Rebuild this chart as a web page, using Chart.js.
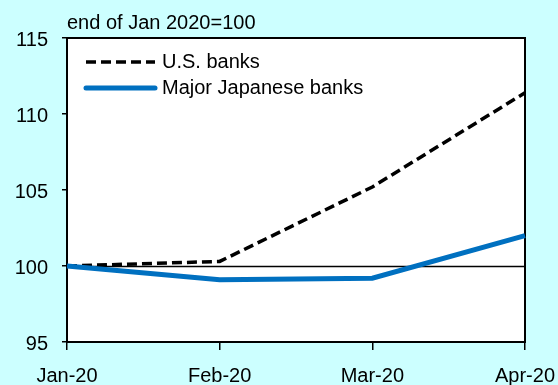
<!DOCTYPE html>
<html>
<head>
<meta charset="utf-8">
<script src="https://cdn.jsdelivr.net/npm/chart.js@4/dist/chart.umd.min.js"></script>
<style>
  html, body { margin: 0; padding: 0; background: #ccffff; }
  #wrap { width: 558px; height: 385px; position: relative; }
</style>
</head>
<body>
<div id="wrap"><canvas id="chart"></canvas></div>
<script>
// data
const months = ['Jan-20', 'Feb-20', 'Mar-20', 'Apr-20'];
const usBanks = [100, 100.3, 105.2, 111.4];
const japanBanks = [100, 99.1, 99.2, 102.0];
const yTicks = [95, 100, 105, 110, 115];
const unitNote = 'end of Jan 2020=100';

const FONT = "'Liberation Sans', Arial, sans-serif";
const BLUE = '#0070c0';

// keep the plot box where the reference has it
function noScalePadding(scale) {
  scale.paddingLeft = 0;
  scale.paddingRight = 0;
  scale.paddingTop = 0;
  scale.paddingBottom = 0;
}

// white plot area, frame and the 100 base line
const plotFrame = {
  id: 'plotFrame',
  beforeDatasetsDraw(chart) {
    const { ctx, chartArea: a, scales } = chart;
    ctx.save();
    ctx.fillStyle = '#ffffff';
    ctx.fillRect(a.left, a.top, a.right - a.left, a.bottom - a.top);
    const y100 = Math.round(scales.y.getPixelForValue(100)) + 0.5;
    ctx.strokeStyle = '#000';
    ctx.lineWidth = 1.5;
    ctx.beginPath();
    ctx.moveTo(a.left, y100);
    ctx.lineTo(a.right, y100);
    ctx.stroke();
    ctx.lineWidth = 2;
    ctx.strokeRect(a.left, a.top, a.right - a.left, a.bottom - a.top);
    ctx.restore();
  },
  afterDatasetsDraw(chart) {
    const { ctx, chartArea: a } = chart;
    ctx.save();
    // unit note above the plot
    ctx.font = '20px ' + FONT;
    ctx.fillStyle = '#000';
    ctx.textAlign = 'left';
    ctx.textBaseline = 'middle';
    ctx.fillText(unitNote, a.left, 23);
    // legend inside the plot
    const rows = chart.data.datasets.map((ds, i) => ({ ds, y: 62 + i * 26 }));
    rows.forEach(({ ds, y }) => {
      ctx.strokeStyle = ds.borderColor;
      ctx.lineWidth = ds.borderWidth;
      ctx.setLineDash(ds.borderDash || []);
      ctx.lineCap = ds.borderDash ? 'butt' : 'round';
      ctx.beginPath();
      ctx.moveTo(86, y);
      ctx.lineTo(155, y);
      ctx.stroke();
      ctx.setLineDash([]);
      ctx.fillText(ds.label, 162, y);
    });
    ctx.restore();
  }
};

new Chart(document.getElementById('chart'), {
  type: 'line',
  data: {
    labels: months,
    datasets: [
      {
        label: 'U.S. banks',
        data: usBanks,
        borderColor: '#000000',
        borderWidth: 3.5,
        borderDash: [10, 5],
        pointRadius: 0,
        tension: 0,
        order: 2
      },
      {
        label: 'Major Japanese banks',
        data: japanBanks,
        borderColor: BLUE,
        borderWidth: 5,
        pointRadius: 0,
        tension: 0,
        order: 1
      }
    ]
  },
  options: {
    responsive: true,
    maintainAspectRatio: false,
    animation: false,
    layout: { padding: { top: 38, right: 33, left: 0, bottom: 0 } },
    plugins: {
      legend: { display: false },
      tooltip: { enabled: false }
    },
    scales: {
      x: {
        type: 'category',
        offset: false,
        border: { display: false },
        grid: {
          drawOnChartArea: false,
          color: '#000',
          lineWidth: 1.5,
          tickLength: 8
        },
        ticks: {
          color: '#000',
          font: { family: FONT, size: 20 },
          padding: 14,
          maxRotation: 0,
          autoSkip: false
        },
        afterFit(scale) {
          scale.height = 43;
          noScalePadding(scale);
        }
      },
      y: {
        min: 95,
        max: 115,
        border: { display: false },
        grid: {
          drawOnChartArea: false,
          color: '#000',
          lineWidth: 1.5,
          tickLength: 5
        },
        afterBuildTicks(scale) {
          scale.ticks = yTicks.map(v => ({ value: v }));
        },
        ticks: {
          color: '#000',
          font: { family: FONT, size: 20 },
          padding: 14,
          labelOffset: 2
        },
        afterFit(scale) {
          scale.width = 67;
          noScalePadding(scale);
        }
      }
    }
  },
  plugins: [plotFrame]
});
</script>
</body>
</html>
